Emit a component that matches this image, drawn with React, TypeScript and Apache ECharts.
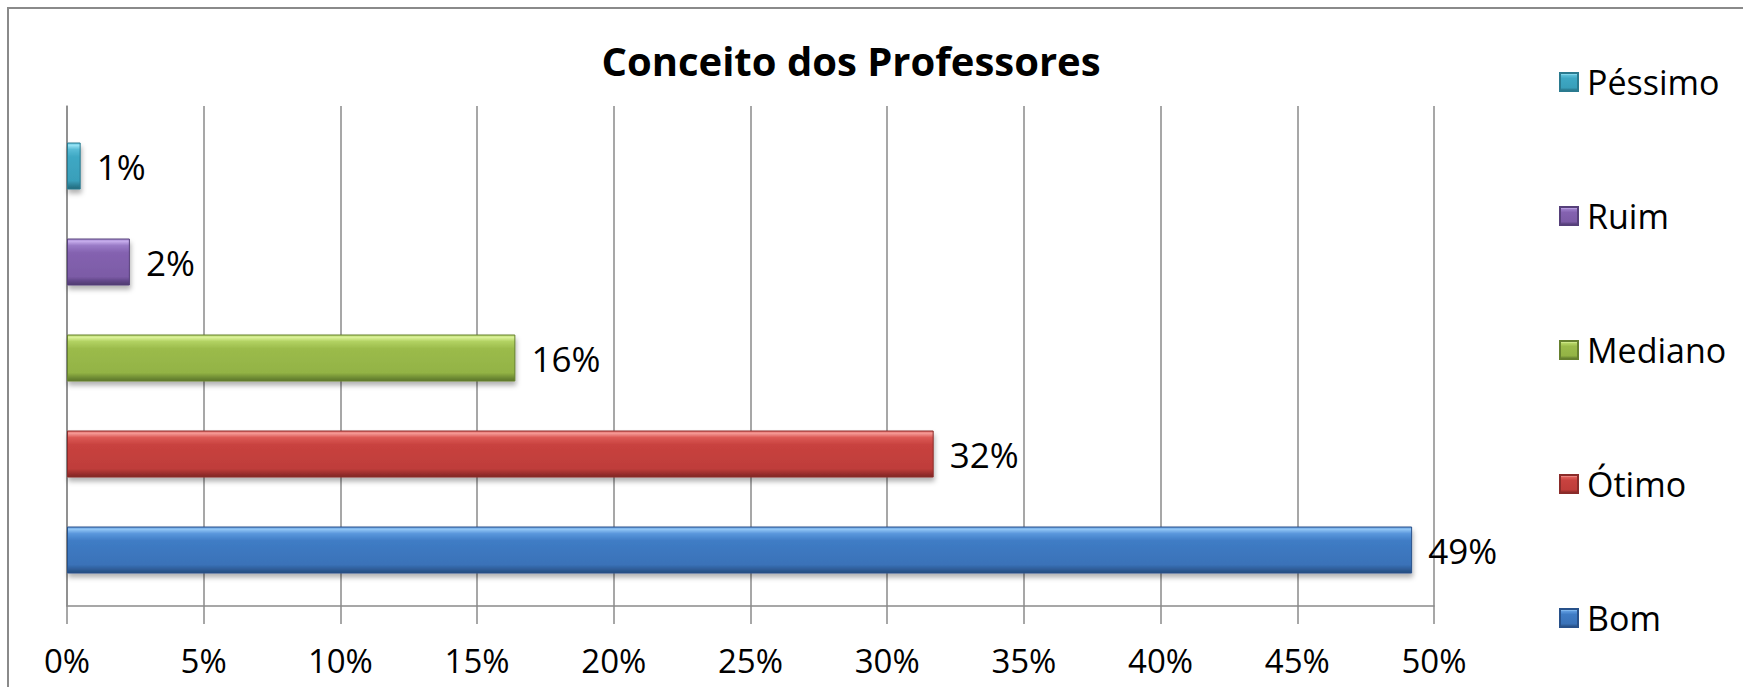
import React, { useEffect, useRef } from "react";
import * as echarts from "echarts";

const title = "Conceito dos Professores";
const categories = ["Bom", "Ótimo", "Mediano", "Ruim", "Péssimo"];
const values = [49.2, 31.7, 16.4, 2.3, 0.5];
const legendOrder = ["Péssimo", "Ruim", "Mediano", "Ótimo", "Bom"];
const axisMin = 0;
const axisMax = 50;
const axisStep = 5;

// [edge, highlight, upper body, body, lower body, dark band, bottom edge]
const palette: Record<string, { stops: string[]; border: string }> = {
  Bom: { stops: ["#5f9ade", "#92c6f5", "#5b98dd", "#3f7cc5", "#3a72b8", "#2e5d98", "#244a7c"], border: "#28518a" },
  "Ótimo": { stops: ["#e26a66", "#f59a96", "#dc5a56", "#c8423f", "#bf3d3a", "#9c2f2d", "#7e2624"], border: "#8a2c2a" },
  Mediano: { stops: ["#b6d66a", "#dcf29a", "#b2d262", "#9bbb4b", "#93b345", "#728f35", "#5c752a"], border: "#66802f" },
  Ruim: { stops: ["#a386cf", "#c6adec", "#9a7bc7", "#8462b0", "#7c5ba6", "#604686", "#4e3a6e"], border: "#56407a" },
  "Péssimo": { stops: ["#5cc2dc", "#96e3f5", "#58bcd6", "#3ea8c4", "#399fba", "#2c8096", "#22687a"], border: "#2a7a8f" },
};

function grad(s: string[]) {
  return new echarts.graphic.LinearGradient(0, 0, 0, 1, [
    { offset: 0, color: s[0] },
    { offset: 0.05, color: s[1] },
    { offset: 0.14, color: s[2] },
    { offset: 0.3, color: s[3] },
    { offset: 0.82, color: s[4] },
    { offset: 0.92, color: s[5] },
    { offset: 1, color: s[6] },
  ]);
}

const FONT = "'Open Sans', 'Noto Sans', sans-serif";
const GRID_COLOR = "#8a8a8a";

export default function App() {
  const ref = useRef<HTMLDivElement>(null);
  useEffect(() => {
    if (!ref.current) return;
    const chart = echarts.init(ref.current, undefined, { renderer: "svg" });
    const series = categories.map((name, i) => ({
      name,
      type: "bar",
      stack: "all",
      xAxisIndex: 1,
      yAxisIndex: 1,
      barWidth: 47,
      data: categories.map((_, j) => (j === i ? values[i] : "-")),
      itemStyle: {
        color: grad(palette[name].stops),
        borderColor: palette[name].border,
        borderWidth: 1,
        shadowColor: "rgba(0,0,0,0.3)",
        shadowBlur: 5,
        shadowOffsetX: 1,
        shadowOffsetY: 4,
      },
      label: {
        show: true,
        position: "right",
        distance: 16,
        color: "#000",
        fontFamily: FONT,
        fontSize: 35,
        formatter: (p: any) => Math.round(p.value) + "%",
      },
    }));
    chart.setOption({
      animation: false,
      backgroundColor: "#ffffff",
      title: {
        text: title,
        left: 846,
        top: 35,
        textAlign: "center",
        textStyle: { fontFamily: FONT, fontWeight: "bold", fontSize: 40, color: "#000" },
      },
      graphic: [
        {
          type: "rect",
          silent: true,
          z: -10,
          shape: { x: 8, y: 8, width: 2000, height: 2000 },
          style: { fill: "none", stroke: GRID_COLOR, lineWidth: 2 },
        },
      ],
      legend: {
        orient: "vertical",
        left: 1554,
        top: 57,
        itemWidth: 18,
        itemHeight: 18,
        itemGap: 94,
        data: legendOrder,
        icon: "rect",
        textStyle: {
          fontFamily: FONT,
          fontSize: 34,
          lineHeight: 40,
          color: "#000",
          padding: [0, 0, 0, 4],
        },
      },
      grid: [
        { left: 67, right: 309, top: 106, bottom: 81, containLabel: false },
        { left: 67, right: 309, top: 118, bottom: 89, containLabel: false },
      ],
      xAxis: [
        {
          type: "value",
          gridIndex: 0,
          min: axisMin,
          max: axisMax,
          interval: axisStep,
          axisLine: { show: true, lineStyle: { color: GRID_COLOR, width: 1.5 } },
          axisTick: { show: true, length: 18, lineStyle: { color: GRID_COLOR, width: 1.5 } },
          splitLine: { show: true, lineStyle: { color: GRID_COLOR, width: 1.5 } },
          axisLabel: {
            formatter: "{value}%",
            margin: 38,
            color: "#000",
            fontFamily: FONT,
            fontSize: 33,
          },
        },
        {
          type: "value",
          gridIndex: 1,
          min: axisMin,
          max: axisMax,
          interval: axisStep,
          show: false,
        },
      ],
      yAxis: [
        {
          type: "category",
          gridIndex: 0,
          data: [""],
          axisLine: { show: true, lineStyle: { color: GRID_COLOR, width: 1.5 } },
          axisTick: { show: false },
          axisLabel: { show: false },
          splitLine: { show: false },
        },
        {
          type: "category",
          gridIndex: 1,
          data: categories,
          show: false,
        },
      ],
      series,
    });
    return () => chart.dispose();
  }, []);
  return (
    <div
      ref={ref}
      style={{ position: "absolute", left: 0, top: 0, width: 1743, height: 687 }}
    />
  );
}
